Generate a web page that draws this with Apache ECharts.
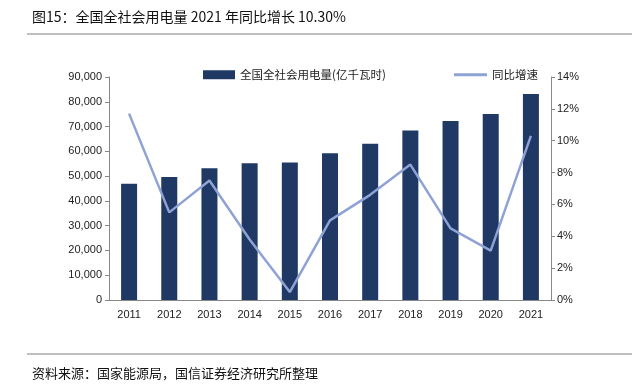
<!DOCTYPE html>
<html><head><meta charset="utf-8">
<script src="https://cdn.jsdelivr.net/npm/echarts@6/dist/echarts.min.js"></script>
<style>html,body{margin:0;padding:0;background:#fff}#c{width:632px;height:388px}</style>
</head><body><div id="c"></div>
<script>
const years = ['2011','2012','2013','2014','2015','2016','2017','2018','2019','2020','2021'];
const consumption = [46928,49591,53223,55233,55500,59198,63077,68449,72255,75110,83128];
const growth = [11.7,5.5,7.5,3.8,0.5,5.0,6.6,8.5,4.5,3.1,10.3];
const leftTicks = {min:0,max:90000,interval:10000};
const rightTicks = {min:0,max:14,interval:2};
const titleText = '图15：全国全社会用电量 2021 年同比增长 10.30%';
const sourceText = '资料来源：国家能源局，国信证券经济研究所整理';
const barName = '全国全社会用电量(亿千瓦时)';
const lineName = '同比增速';

const chart = echarts.init(document.getElementById('c'));
const cjk = '"Noto Sans CJK SC", sans-serif';
const num = '"Liberation Sans", Arial, sans-serif';
chart.setOption({
  animation:false,
  title:[
    {text:titleText,left:27,top:5,textStyle:{fontFamily:cjk,fontSize:14,fontWeight:'normal',color:'#111'}},
    {text:sourceText,left:27,top:362,textStyle:{fontFamily:cjk,fontSize:13,fontWeight:'normal',color:'#111'}}
  ],
  graphic:[
    {type:'line',shape:{x1:27,y1:34,x2:632,y2:34},style:{stroke:'#aaa',lineWidth:1.5}},
    {type:'line',shape:{x1:27,y1:354,x2:632,y2:354},style:{stroke:'#aaa',lineWidth:1.5}}
  ],
  legend:[
    {top:69,left:203,padding:0,itemWidth:32,itemHeight:9,itemGap:5,
     textStyle:{fontFamily:cjk,fontSize:11.5,color:'#222'},
     data:[{name:barName,icon:'rect'}]},
    {top:69,left:454,padding:0,itemWidth:33,itemHeight:3,
     textStyle:{fontFamily:cjk,fontSize:11.5,color:'#222'},
     data:[{name:lineName,icon:'rect',itemStyle:{color:'#8fa2d6'}}]}
  ],
  grid:{left:109,right:81,top:77,bottom:88},
  xAxis:{type:'category',data:years,
    axisLine:{lineStyle:{color:'#888'}},
    axisTick:{alignWithLabel:false,length:5,lineStyle:{color:'#888'}},
    axisLabel:{fontFamily:num,fontSize:11,color:'#222',margin:9}},
  yAxis:[
    {type:'value',min:leftTicks.min,max:leftTicks.max,interval:leftTicks.interval,
     axisLine:{show:true,lineStyle:{color:'#888'}},axisTick:{show:true,length:4,lineStyle:{color:'#888'}},
     splitLine:{show:false},
     axisLabel:{fontFamily:num,fontSize:11,color:'#222',margin:7,formatter:v=>v.toLocaleString('en-US')}},
    {type:'value',min:rightTicks.min,max:rightTicks.max,interval:rightTicks.interval,position:'right',
     axisLine:{show:true,lineStyle:{color:'#888'}},axisTick:{show:true,length:4,lineStyle:{color:'#888'}},
     splitLine:{show:false},
     axisLabel:{fontFamily:num,fontSize:11,color:'#222',margin:6,formatter:v=>v+'%'}}
  ],
  series:[
    {name:barName,type:'bar',data:consumption,barWidth:16,itemStyle:{color:'#1f3864'}},
    {name:lineName,type:'line',yAxisIndex:1,data:growth,symbol:'none',
     lineStyle:{color:'#8fa2d6',width:2.5},itemStyle:{color:'#8fa2d6'}}
  ]
});
</script></body></html>
